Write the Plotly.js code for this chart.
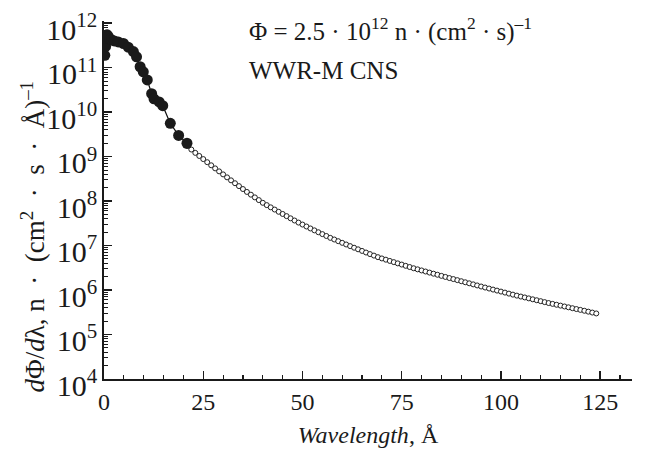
<!DOCTYPE html>
<html>
<head>
<meta charset="utf-8">
<script src="https://cdn.plot.ly/plotly-3.0.1.min.js"></script>
<style>html,body{margin:0;padding:0;background:#fff;}#chart{width:645px;height:455px;}</style>
</head>
<body>
<div id="chart"></div>
<script>
// Measured spectrum (filled circles), wavelength in Å and flux density
const measuredLambda = [0.2, 0.4, 0.6, 0.8, 1.1, 1.5, 1.9, 2.6, 3.6, 4.9, 6.1, 7.4, 8.2, 9.1, 9.9, 10.9, 12.0, 12.6, 13.9, 14.8, 16.7, 18.8, 20.9];
const measuredFlux = [1.9e11, 3.0e11, 4.6e11, 5.5e11, 5.0e11, 4.4e11, 4.2e11, 4.0e11, 3.8e11, 3.5e11, 2.9e11, 2.3e11, 1.76e11, 1.05e11, 8.1e10, 5.3e10, 2.6e10, 2.0e10, 1.7e10, 1.4e10, 5.6e9, 3.0e9, 2.0e9];

// Extrapolated spectrum (open circles): wavelength in Å and log10 of flux density
const extrapLambda = [21,22,23,24,25,26,27,28,29,30,31,32,33,34,35,36,37,38,39,40,41,42,43,44,45,46,47,48,49,50,51,52,53,54,55,56,57,58,59,60,61,62,63,64,65,66,67,68,69,70,71,72,73,74,75,76,77,78,79,80,81,82,83,84,85,86,87,88,89,90,91,92,93,94,95,96,97,98,99,100,101,102,103,104,105,106,107,108,109,110,111,112,113,114,115,116,117,118,119,120,121,122,123,124];
const extrapLogFlux = [9.240,9.160,9.085,9.015,8.945,8.875,8.805,8.736,8.669,8.601,8.534,8.467,8.402,8.337,8.272,8.207,8.145,8.084,8.023,7.962,7.910,7.860,7.810,7.760,7.711,7.662,7.613,7.564,7.517,7.473,7.429,7.385,7.342,7.300,7.258,7.216,7.174,7.137,7.099,7.062,7.025,6.988,6.952,6.916,6.880,6.844,6.809,6.775,6.740,6.711,6.683,6.655,6.628,6.600,6.573,6.545,6.518,6.490,6.466,6.441,6.417,6.393,6.368,6.344,6.319,6.295,6.270,6.247,6.223,6.199,6.175,6.152,6.128,6.104,6.080,6.057,6.034,6.011,5.988,5.966,5.943,5.920,5.897,5.875,5.854,5.834,5.813,5.792,5.771,5.750,5.729,5.708,5.689,5.669,5.650,5.631,5.612,5.592,5.573,5.554,5.534,5.514,5.494,5.474];
const extrapFlux = extrapLogFlux.map(v => Math.pow(10, v));

const xTickVals = [0, 25, 50, 75, 100, 125];

const serif = "'Liberation Serif', 'Times New Roman', serif";
const ink = '#1a1a1a';
const sp = '\u2002'; // en space used around the centred dots

const traces = [
  {
    x: extrapLambda, y: extrapFlux, type: 'scatter', mode: 'markers',
    marker: {symbol: 'circle', size: 5, color: '#ffffff', line: {color: '#222', width: 1}},
    showlegend: false, hoverinfo: 'skip'
  },
  {
    x: measuredLambda, y: measuredFlux, type: 'scatter', mode: 'lines+markers',
    line: {color: '#111', width: 1.2},
    marker: {symbol: 'circle', size: 11, color: ink},
    showlegend: false, hoverinfo: 'skip'
  }
];

const layout = {
  width: 645, height: 455,
  margin: {l: 104, r: 13, t: 21, b: 76},
  paper_bgcolor: '#fff', plot_bgcolor: '#fff',
  font: {family: serif, color: ink, size: 23},
  xaxis: {
    range: [0, 133], tickvals: xTickVals, ticks: 'inside', ticklen: 8, tickwidth: 1.5,
    tickcolor: ink, showline: true, linecolor: ink, linewidth: 2,
    showgrid: false, zeroline: false, mirror: false,
    tickfont: {family: serif, size: 24, color: ink},
    minor: {dtick: 5, ticks: 'inside', ticklen: 4, tickwidth: 1.2, tickcolor: ink, showgrid: false},
    title: {text: '<i>Wavelength</i>, Å', font: {family: serif, size: 24, color: ink}, standoff: 12}
  },
  yaxis: {
    type: 'log', range: [4, 12.05], dtick: 1, exponentformat: 'power',
    ticks: 'inside', ticklen: 8, tickwidth: 1.5, tickcolor: ink,
    showline: true, linecolor: ink, linewidth: 2,
    showgrid: false, zeroline: false, mirror: false,
    tickfont: {family: serif, size: 24, color: ink},
    ticklabelshift: 6, ticklabeloverflow: 'allow',
    minor: {dtick: 'D1', ticks: 'inside', ticklen: 4, tickwidth: 1, tickcolor: ink, showgrid: false}
  },
  annotations: [
    {xref: 'paper', yref: 'paper', x: -0.135, y: 0.397, xanchor: 'center', yanchor: 'middle', textangle: -90, showarrow: false,
     text: '<i>d</i>Φ/<i>d</i>λ, n' + sp + '·' + sp + '(cm<sup>2</sup>' + sp + '·' + sp + 's' + sp + '·' + sp + 'Å)<sup>–1</sup>',
     font: {family: serif, size: 27, color: ink}},
    {xref: 'paper', yref: 'paper', x: 0.27, y: 0.977, xanchor: 'left', yanchor: 'middle', showarrow: false,
     text: 'Φ = 2.5 · 10<sup>12</sup> n · (cm<sup>2</sup> · s)<sup>–1</sup>', font: {family: serif, size: 25, color: ink}},
    {xref: 'paper', yref: 'paper', x: 0.27, y: 0.862, xanchor: 'left', yanchor: 'middle', showarrow: false,
     text: 'WWR-M CNS', font: {family: serif, size: 25, color: ink}}
  ]
};

Plotly.newPlot('chart', traces, layout, {staticPlot: true, displayModeBar: false});
</script>
</body>
</html>
